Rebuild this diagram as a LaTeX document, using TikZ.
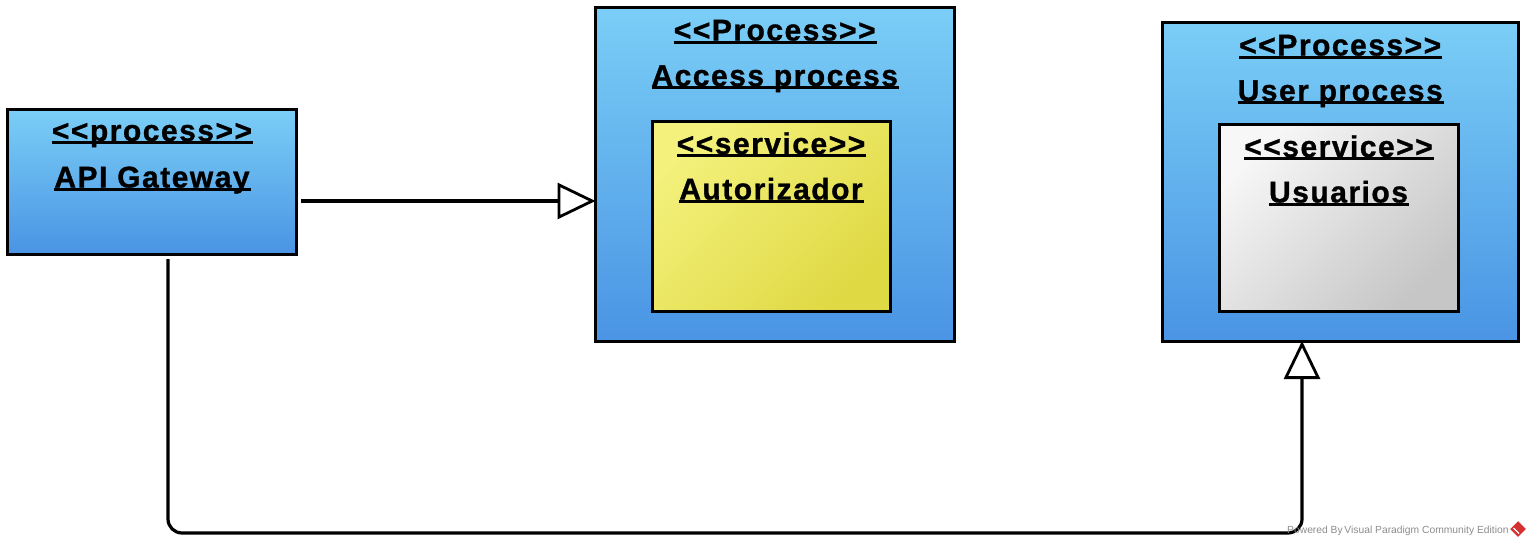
\documentclass[tikz,border=0pt]{standalone}
\usepackage{fontspec}
\setmainfont{Liberation Sans}
\usetikzlibrary{arrows.meta,calc}
\definecolor{blueT}{RGB}{122,206,246}
\definecolor{blueB}{RGB}{74,148,228}
\definecolor{yelA}{RGB}{244,241,124}
\definecolor{yelB}{RGB}{223,217,68}
\definecolor{grayA}{RGB}{247,247,247}
\definecolor{grayB}{RGB}{198,198,198}
\definecolor{wmgray}{RGB}{140,140,140}
\definecolor{vpred}{RGB}{214,48,48}
\newcommand\myul[1]{\setbox0\hbox{#1}\rlap{\rule[-3pt]{\dimexpr\wd0+1pt\relax}{2.8pt}}\box0}
\tikzset{
  box/.style={draw=black, line width=3pt, inner sep=0pt, outer sep=0pt, anchor=north west},
  proc/.style={box, top color=blueT, bottom color=blueB},
  svcY/.style={box, top color=yelA, bottom color=yelB, shading angle=45},
  svcG/.style={box, top color=grayA, bottom color=grayB, shading angle=45},
  lbl/.style={anchor=base, inner sep=0pt, font=\fontsize{30}{32}\selectfont\bfseries\addfontfeature{LetterSpace=5,FakeBold=1}},
  conn/.style={line width=3.2pt},
  gen/.style={-{Triangle[open, length=38pt, width=36pt, line width=2.8pt]}}
}
\begin{document}
\begin{tikzpicture}[x=1pt,y=-1pt]
\useasboundingbox (0,0) rectangle (1530,546);
% boxes
\node[proc, minimum width=289, minimum height=144.5] (api) at (7.5,109.5) {};
\node[proc, minimum width=358.5, minimum height=333.5] (access) at (595.5,7.5) {};
\node[svcY, minimum width=238, minimum height=190] (autor) at (652,121) {};
\node[proc, minimum width=355.5, minimum height=319] (user) at (1162.5,22) {};
\node[svcG, minimum width=239, minimum height=187] (usu) at (1219,124) {};
% labels
\node[lbl] (apiS) at (api.north |- 0,141) {\myul{<{}<process>{}>}};
\node[lbl] (apiN) at (api.north |- 0,187.5) {\myul{API Gateway}};
\node[lbl] (accS) at (access.north |- 0,40.5) {\myul{<{}<Process>{}>}};
\node[lbl] (accN) at (access.north |- 0,86) {\myul{Access process}};
\node[lbl] (autS) at (autor.north |- 0,154) {\myul{<{}<service>{}>}};
\node[lbl] (autN) at (autor.north |- 0,199.5) {\myul{Autorizador}};
\node[lbl] (usrS) at (user.north |- 0,55.5) {\myul{<{}<Process>{}>}};
\node[lbl] (usrN) at (user.north |- 0,101) {\myul{User process}};
\node[lbl] (usuS) at (usu.north |- 0,157) {\myul{<{}<service>{}>}};
\node[lbl] (usuN) at (usu.north |- 0,202.5) {\myul{Usuarios}};
% connectors
\draw[conn, gen] ($(api.east |- 0,201)+(4.5,0)$) -- (access.west |- 0,201);
\coordinate (turn) at (1302,533);
\draw[conn, gen, rounded corners=14] ($(api.south)+(16,5)$) |- (turn) -- (user.south -| turn);
% watermark
\node[anchor=base west, inner sep=0pt, text=wmgray, font=\fontsize{10.3}{11}\selectfont] (wm) at (1287,533) {Powered By\,Visual Paradigm Community Edition};
\node[fill=vpred, rotate=45, minimum size=11, inner sep=0pt] (logo) at (1518,529) {};
\draw[white, line width=1.3pt] ($(logo.center)+(-4.5,-1)$) -- ($(logo.center)+(1,4.5)$);
\end{tikzpicture}
\end{document}
